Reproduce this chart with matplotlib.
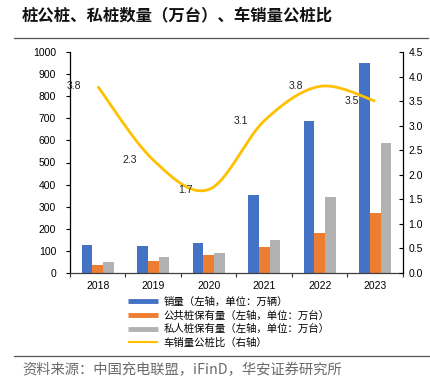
import matplotlib
matplotlib.use("Agg")
import matplotlib.pyplot as plt
import numpy as np
from matplotlib.lines import Line2D

plt.rcParams['font.family'] = ['Liberation Sans', 'Noto Sans CJK SC', 'DejaVu Sans']

years = ["2018", "2019", "2020", "2021", "2022", "2023"]
sales = [128, 123, 138, 353, 690, 952]          # 销量（万辆）
public_piles = [36, 54, 83, 117, 180, 273]      # 公共桩保有量（万台）
private_piles = [50, 72, 90, 149, 343, 589]     # 私人桩保有量（万台）
ratio = [3.8, 2.3, 1.7, 3.1, 3.8, 3.5]          # 车销量公桩比

left_ticks = [0, 100, 200, 300, 400, 500, 600, 700, 800, 900, 1000]
right_ticks = [0.0, 0.5, 1.0, 1.5, 2.0, 2.5, 3.0, 3.5, 4.0, 4.5]

title = "桩公桩、私桩数量（万台）、车销量公桩比"
source = "资料来源：中国充电联盟，iFinD，华安证券研究所"
labels = ["销量（左轴，单位：万辆）", "公共桩保有量（左轴，单位：万台）",
          "私人桩保有量（左轴，单位：万台）", "车销量公桩比（右轴）"]

c_blue, c_orange, c_gray, c_gold = "#4472C4", "#ED7D31", "#B2B2B2", "#FFC000"

fig = plt.figure(figsize=(4.31, 3.89), dpi=100)
ax = fig.add_axes([70 / 431, 116 / 389, 333 / 431, 221 / 389])
x = np.arange(len(years))
w = 0.192
ax.bar(x - w, sales, w, color=c_blue, zorder=2)
ax.bar(x, public_piles, w, color=c_orange, zorder=2)
ax.bar(x + w, private_piles, w, color=c_gray, zorder=2)
ax.set_xlim(-0.5, len(years) - 0.5)
ax.set_ylim(0, 1000)
ax.set_yticks(left_ticks)
ax.set_xticks(x)
ax.set_xticklabels(years)
ax.set_xticks(np.arange(-0.5, len(years)), minor=True)
ax.tick_params(axis='x', which='major', length=0, pad=6, labelsize=7.5)
ax.tick_params(axis='x', which='minor', length=3, width=0.8, color='#333333')
ax.tick_params(axis='y', length=3, width=0.8, pad=7, labelsize=7.5)
for s in ['top', 'right']:
    ax.spines[s].set_visible(False)
ax.spines['left'].set_linewidth(0.9)
ax.spines['bottom'].set_linewidth(0.9)
ax.spines['bottom'].set_color('#404040')

ax2 = ax.twinx()
ax2.set_ylim(0, 4.5)
ax2.set_yticks(right_ticks)
ax2.set_yticklabels([f"{v:.1f}" for v in right_ticks])
ax2.tick_params(axis='y', direction='in', length=3, width=0.8, pad=4, labelsize=7.5)
for s in ['top', 'left', 'bottom']:
    ax2.spines[s].set_visible(False)
ax2.spines['right'].set_linewidth(0.9)

# Excel-style smoothed line (Catmull-Rom Bezier through the data points)
px = x.astype(float)
py = np.array(ratio, dtype=float)
n = len(px)
cx, cy = [], []
t = np.linspace(0, 1, 40)
for i in range(n - 1):
    p0 = (px[max(i - 1, 0)], py[max(i - 1, 0)])
    p1 = (px[i], py[i])
    p2 = (px[i + 1], py[i + 1])
    p3 = (px[min(i + 2, n - 1)], py[min(i + 2, n - 1)])
    b1 = (p1[0] + (p2[0] - p0[0]) / 6, p1[1] + (p2[1] - p0[1]) / 6)
    b2 = (p2[0] - (p3[0] - p1[0]) / 6, p2[1] - (p3[1] - p1[1]) / 6)
    xs = ((1 - t) ** 3) * p1[0] + 3 * ((1 - t) ** 2) * t * b1[0] + 3 * (1 - t) * t ** 2 * b2[0] + t ** 3 * p2[0]
    ys = ((1 - t) ** 3) * p1[1] + 3 * ((1 - t) ** 2) * t * b1[1] + 3 * (1 - t) * t ** 2 * b2[1] + t ** 3 * p2[1]
    cx.extend(xs)
    cy.extend(ys)
ax2.plot(cx, cy, color=c_gold, lw=2.0, solid_capstyle='butt', zorder=3)
for xi, yi in zip(px, py):
    ax2.annotate(f"{yi:.1f}", (xi, yi), xytext=(-17, 0), textcoords='offset points',
                 ha='center', va='center', fontsize=7.5, color='#222222', zorder=4)

handles = [Line2D([], [], color=c_blue, lw=3.5, solid_capstyle='butt'),
           Line2D([], [], color=c_orange, lw=3.5, solid_capstyle='butt'),
           Line2D([], [], color=c_gray, lw=3.5, solid_capstyle='butt'),
           Line2D([], [], color=c_gold, lw=1.5, solid_capstyle='butt')]
fig.legend(handles, labels, loc='upper left', bbox_to_anchor=(128 / 431, 1 - 297 / 389),
           frameon=False, handlelength=2.9, handletextpad=0.5,
           labelspacing=0.32, borderpad=0, borderaxespad=0,
           prop={'family': ['Noto Sans CJK SC'], 'size': 7.5})

fig.text(22 / 431, 1 - 16 / 389, title, fontsize=11.8, fontweight='bold',
         family=['Noto Sans CJK SC'], va='center', ha='left', color='#111111')
fig.text(22 / 431, 1 - 370 / 389, source, fontsize=10.3,
         family=['Noto Sans CJK SC', 'DejaVu Sans'], va='center', ha='left', color='#6a6a6a')
fig.add_artist(Line2D([14 / 431, 428 / 431], [1 - 38 / 389] * 2, color='#555555', lw=0.9))
fig.add_artist(Line2D([14 / 431, 430 / 431], [1 - 356 / 389] * 2, color='#555555', lw=0.9))

fig.savefig("out.png", dpi=100)
